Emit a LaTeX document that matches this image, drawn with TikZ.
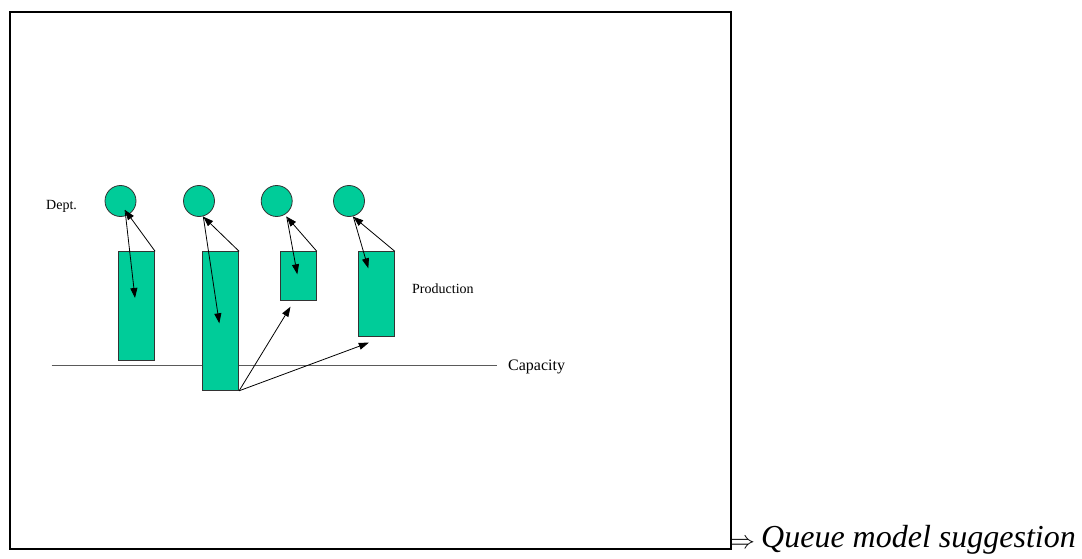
\documentclass[tikz,border=0pt]{standalone}
\usepackage{fontspec}
\setmainfont{Liberation Serif}
\usetikzlibrary{arrows.meta}
\definecolor{dgreen}{RGB}{0,204,153}
\definecolor{lgray}{RGB}{90,90,90}
\tikzset{
  dept/.style={circle, draw=black!80, fill=dgreen, line width=0.8pt, minimum size=31pt, inner sep=0pt},
  prod/.style={draw=black!80, fill=dgreen, line width=0.8pt, inner sep=0pt},
  lbl/.style={inner sep=0pt, anchor=west, font=\fontsize{14}{16}\selectfont},
  arr/.style={-{Triangle[length=10pt,width=7pt]}, line width=0.8pt, black},
}
\begin{document}
\begin{tikzpicture}[x=1pt,y=-1pt]
\useasboundingbox (0,0) rectangle (1082,559);
\node[draw, line width=2pt, minimum width=721pt, minimum height=537pt, inner sep=0pt, anchor=north west] (frame) at (9,11) {};
% capacity line
\coordinate (capL) at (51.7,365.7);
\coordinate (capR) at (496.7,365.7);
\draw[lgray, line width=0.9pt] (capL) -- (capR);
% departments
\node[dept] (c1) at (120.5,201) {};
\node[dept] (c2) at (199,201) {};
\node[dept] (c3) at (276.7,201) {};
\node[dept] (c4) at (349,201) {};
% production rectangles
\node[prod, minimum width=36.6pt, minimum height=108.7pt, anchor=north west] (r1) at (117.7,251.3) {};
\node[prod, minimum width=36.6pt, minimum height=138.7pt, anchor=north west] (r2) at (201.7,251.3) {};
\node[prod, minimum width=36pt, minimum height=48.4pt, anchor=north west] (r3) at (280,251.3) {};
\node[prod, minimum width=35.7pt, minimum height=84.4pt, anchor=north west] (r4) at (358.3,251.3) {};
% labels
\node[lbl] (dept) at (46,206) {Dept.};
\node[lbl] (production) at (412,289) {Production};
\node[lbl, font=\fontsize{16}{18}\selectfont] (capacity) at (508,367) {Capacity};
% arrow tips / ends
\coordinate (t1) at (125,210);
\coordinate (t2) at (203.3,216.7);
\coordinate (t3) at (286.7,216.7);
\coordinate (t4) at (353.3,216.7);
\coordinate (a1) at (135,298);
\coordinate (a2) at (219.3,323.3);
\coordinate (a3) at (297.3,274.3);
\coordinate (a4) at (368.3,268.3);
\coordinate (b3) at (290.5,306.7);
\coordinate (b4) at (368.8,342.7);
\draw[arr] (r1.north east) -- (t1);
\draw[arr] (t1) -- (a1);
\draw[arr] (r2.north east) -- (t2);
\draw[arr] (t2) -- (a2);
\draw[arr] (r3.north east) -- (t3);
\draw[arr] (t3) -- (a3);
\draw[arr] (r4.north east) -- (t4);
\draw[arr] (t4) -- (a4);
\draw[arr] (r2.south east) -- (b3);
\draw[arr] (r2.south east) -- (b4);
% bottom text
\node[inner sep=0pt, anchor=base west, font=\fontsize{28}{30}\selectfont] (impl) at (730,548) {$\Rightarrow$};
\node[inner sep=0pt, anchor=base west, font=\fontsize{32}{36}\selectfont\itshape] (queue) at (761,547) {Queue model suggestion};
\end{tikzpicture}
\end{document}
